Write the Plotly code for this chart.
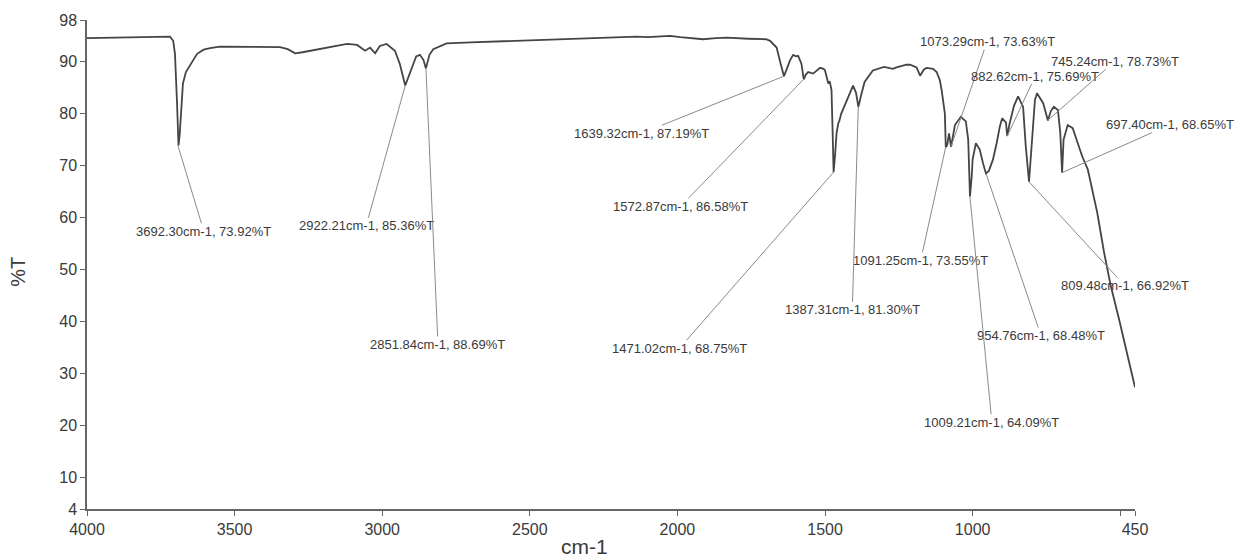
import plotly.graph_objects as go

# ---- spectrum data (wavenumber cm-1, %T) ----
wavenumber = [4000, 3900, 3800, 3719, 3708, 3702, 3695, 3690, 3686, 3680, 3675, 3665, 3651, 3640,
              3627, 3605, 3583, 3550, 3450, 3346, 3320, 3295, 3270, 3234, 3180, 3119, 3085, 3070,
              3058, 3041, 3024, 3008, 2985, 2957, 2940, 2922, 2905, 2885, 2872, 2860, 2852, 2840,
              2827, 2782, 2700, 2591, 2500, 2364, 2250, 2138, 2100, 2060, 2025, 1990, 1950, 1913,
              1870, 1832, 1760, 1700, 1686, 1664, 1650, 1639, 1630, 1619, 1608, 1598, 1591, 1580,
              1572, 1565, 1557, 1540, 1517, 1505, 1500, 1489, 1484, 1478, 1474, 1471, 1466, 1461,
              1455, 1452, 1445, 1428, 1405, 1395, 1387, 1378, 1366, 1338, 1300, 1270, 1258, 1224,
              1212, 1190, 1178, 1165, 1156, 1134, 1122, 1111, 1105, 1094, 1091, 1086, 1080, 1073,
              1068, 1060, 1040, 1023, 1015, 1009, 1003, 1000, 989, 976, 965, 955, 945, 931, 918,
              908, 900, 887, 883, 875, 860, 846, 829, 820, 809, 801, 789, 782, 761, 745, 735, 725,
              711, 703, 697, 692, 678, 661, 644, 629, 610, 593, 578, 555, 533, 505, 478, 450]
transmittance = [94.5, 94.6, 94.7, 94.8, 94.0, 91.5, 82.0, 73.9, 76.0, 82.0, 85.8, 88.0, 89.2, 90.3,
                 91.5, 92.3, 92.6, 92.9, 92.9, 92.8, 92.4, 91.6, 91.8, 92.2, 92.8, 93.4, 93.2, 92.6,
                 92.1, 92.7, 91.6, 93.0, 93.4, 92.1, 89.5, 85.4, 88.0, 91.0, 91.3, 90.3, 88.7, 91.3,
                 92.4, 93.5, 93.7, 93.9, 94.1, 94.3, 94.5, 94.8, 94.7, 94.9, 94.95, 94.7, 94.5, 94.3,
                 94.5, 94.6, 94.4, 94.3, 94.0, 92.7, 89.5, 87.2, 88.5, 90.2, 91.3, 91.0, 91.1, 89.6,
                 86.6, 87.5, 88.0, 87.7, 88.8, 88.6, 88.3, 85.8, 86.2, 84.5, 76.0, 68.75, 72.0, 76.2,
                 78.2, 78.5, 80.0, 82.3, 85.4, 84.0, 81.3, 83.5, 86.1, 88.3, 89.0, 88.6, 88.9, 89.4,
                 89.4, 88.9, 87.3, 88.5, 88.8, 88.6, 88.0, 86.4, 84.5, 80.0, 73.55, 74.0, 76.2, 73.63,
                 75.0, 77.8, 79.4, 78.5, 75.0, 64.1, 68.0, 71.2, 74.3, 73.1, 70.5, 68.5, 69.0, 71.2, 74.5,
                 77.5, 79.1, 78.3, 75.7, 78.0, 81.5, 83.3, 81.3, 73.7, 66.9, 73.7, 82.6, 83.9, 82.0, 78.7,
                 80.5, 81.3, 80.7, 76.2, 68.65, 75.0, 77.8, 77.2, 74.3, 71.8, 69.3, 64.8, 61.0, 53.4,
                 47.1, 40.7, 34.4, 27.4]

# ---- labelled peaks ----
peak_wn = [3692.30, 2922.21, 2851.84, 1639.32, 1572.87, 1471.02, 1387.31, 1091.25,
           1073.29, 882.62, 745.24, 697.40, 809.48, 954.76, 1009.21]
peak_t = [73.92, 85.36, 88.69, 87.19, 86.58, 68.75, 81.30, 73.55,
          73.63, 75.69, 78.73, 68.65, 66.92, 68.48, 64.09]
# label offsets in pixels (text centre relative to peak)
label_dx = [26, -39, 12, -142, -123, -154, -6, -25, 36, 28, 67, 108, 96, 55, 22]
label_dy = [86, 140, 276, 57, 127, 176, 203, 113, -105, -60, -59, -48, 104, 162, 226]

x_tickvals = [4000, 3500, 3000, 2500, 2000, 1500, 1000, 500, 450]
x_ticktext = ["4000", "3500", "3000", "2500", "2000", "1500", "1000", "", "450"]
y_tickvals = [4, 10, 20, 30, 40, 50, 60, 70, 80, 90, 98]

FONT = "Liberation Sans, Arial, sans-serif"

fig = go.Figure()
fig.add_trace(go.Scatter(x=wavenumber, y=transmittance, mode="lines",
                         line=dict(color="#454545", width=1.8), showlegend=False,
                         hoverinfo="skip"))

annotations = []
for w, t, dx, dy in zip(peak_wn, peak_t, label_dx, label_dy):
    annotations.append(dict(
        x=w, y=t, xref="x", yref="y",
        text=f"{w:.2f}cm-1, {t:.2f}%T",
        showarrow=True, arrowhead=0, arrowwidth=1, arrowcolor="#8a8a8a",
        ax=dx, ay=dy, standoff=0, borderpad=0,
        font=dict(family=FONT, size=13, color="#3a3a3a"),
    ))
annotations.append(dict(text="cm-1", xref="paper", yref="paper", x=0.475, y=-0.076,
                        showarrow=False, xanchor="center", yanchor="middle",
                        font=dict(family=FONT, size=21, color="#3a3a3a")))
annotations.append(dict(text="%T", xref="paper", yref="paper", x=-0.066, y=0.485,
                        showarrow=False, textangle=-90, xanchor="center", yanchor="middle",
                        font=dict(family=FONT, size=20, color="#3a3a3a")))

fig.update_layout(
    width=1247, height=560,
    margin=dict(l=87, r=112, t=16, b=51),
    paper_bgcolor="white", plot_bgcolor="white",
    font=dict(family=FONT, color="#3a3a3a"),
    annotations=annotations,
    xaxis=dict(range=[4000, 450], tickvals=x_tickvals, ticktext=x_ticktext,
               showline=True, linecolor="#666666", linewidth=1.5, ticks="outside",
               ticklen=5, tickcolor="#666666", showgrid=False, zeroline=False,
               tickfont=dict(family=FONT, size=16, color="#3a3a3a")),
    yaxis=dict(range=[4, 98], tickvals=y_tickvals,
               showline=True, linecolor="#666666", linewidth=1.5, ticks="outside",
               ticklen=5, tickcolor="#666666", showgrid=False, zeroline=False,
               tickfont=dict(family=FONT, size=16, color="#3a3a3a")),
)

fig.write_html("out.html", config={"displayModeBar": False},
               post_script="document.body.style.margin='0';")
